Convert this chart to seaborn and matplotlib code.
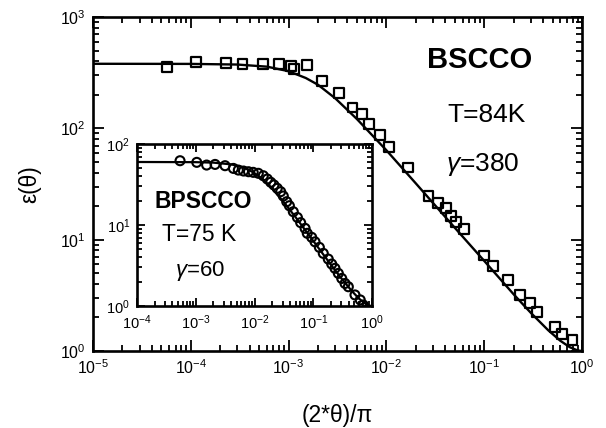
import numpy as np
import pandas as pd
import matplotlib
matplotlib.use("Agg")
import matplotlib.pyplot as plt
import seaborn as sns
from matplotlib.ticker import LogLocator, NullFormatter, LogFormatterSciNotation

# ---------------- data ----------------
# main panel: BSCCO, T=84K, squares
sq_x = [5.75e-5, 1.13e-4, 2.29e-4, 3.38e-4, 5.43e-4, 7.9e-4, 1.06e-3, 1.13e-3,
        1.55e-3, 2.19e-3, 3.27e-3, 4.5e-3, 5.58e-3, 6.7e-3, 8.6e-3, 1.07e-2,
        1.67e-2, 2.69e-2, 3.34e-2, 4.07e-2, 4.57e-2, 5.13e-2, 6.2e-2, 0.100,
        0.122, 0.174, 0.232, 0.295, 0.347, 0.53, 0.63, 0.80]
sq_y = [358, 393, 384, 379, 381, 381, 366, 342,
        371, 267, 209, 154, 135, 110, 87, 68.5,
        44.4, 24.8, 21.2, 19.1, 16.3, 14.3, 12.4, 7.2,
        5.84, 4.35, 3.19, 2.68, 2.25, 1.65, 1.42, 1.26]

# main panel: fitted curve (gamma = 380)
fit_x = [1e-5, 1e-4, 3e-4, 6e-4, 1e-3, 1.5e-3, 2e-3, 3e-3, 5e-3, 1e-2,
         2e-2, 5e-2, 0.1, 0.2, 0.3, 0.45, 0.6, 0.75, 0.9, 1.0]
fit_y = [380, 379, 374, 358, 326, 283, 246, 186, 121, 63.5,
         32, 12.8, 6.45, 3.23, 2.2, 1.54, 1.236, 1.082, 1.012, 1.0]

# inset: BPSCCO, T=75 K, circles
circ_x = [5.4e-4, 1.04e-3, 1.53e-3, 2.13e-3, 3.15e-3, 4.37e-3, 5.3e-3, 6.5e-3,
          7.9e-3, 9.5e-3, 1.16e-2, 1.41e-2, 1.65e-2, 1.89e-2, 2.14e-2, 2.44e-2,
          2.79e-2, 3.09e-2, 3.53e-2, 3.92e-2, 4.57e-2, 5.37e-2, 6.1e-2, 7.25e-2,
          7.9e-2, 9.4e-2, 0.107, 0.127, 0.148, 0.18, 0.206, 0.234, 0.267, 0.305,
          0.347, 0.395, 0.513, 0.63, 0.71]
circ_y = [62.2, 59.4, 55, 56, 54, 50, 47.7, 46.4,
          45.5, 44.7, 43.5, 40.6, 37, 33.7, 31.2, 28.4,
          25.8, 22.8, 19.4, 17.3, 14.6, 12.4, 10.7, 9.1,
          7.9, 7.05, 6.2, 5.3, 4.47, 3.8, 3.3, 2.92, 2.53, 2.19,
          1.9, 1.73, 1.37, 1.19, 1.03]

# inset: fitted curve (gamma = 60)
ifit_x = [1e-4, 1e-3, 2e-3, 4e-3, 6e-3, 8e-3, 1e-2, 1.4e-2, 2e-2, 3e-2,
          5e-2, 0.1, 0.2, 0.3, 0.45, 0.6, 0.75, 0.9, 1.0]
ifit_y = [60.0, 59.7, 58.9, 56.1, 52.2, 47.9, 43.7, 36.2, 28.1, 20.0,
          12.5, 6.36, 3.23, 2.2, 1.54, 1.236, 1.082, 1.012, 1.0]

main_xticks = [1e-5, 1e-4, 1e-3, 1e-2, 1e-1, 1e0]
main_yticks = [1e0, 1e1, 1e2, 1e3]
inset_xticks = [1e-4, 1e-3, 1e-2, 1e-1, 1e0]
inset_yticks = [1e0, 1e1, 1e2]

x_label = "(2*θ)/π"
y_label = "ε(θ)"
main_texts = ["BSCCO", "T=84K", r"$\mathit{γ}$=380"]
inset_texts = ["BPSCCO", "T=75 K", r"$\mathit{γ}$=60"]

# ---------------- style ----------------
sns.set_style("ticks")
plt.rcParams['font.family'] = ['Liberation Sans', 'DejaVu Sans']
plt.rcParams['mathtext.fontset'] = 'custom'
plt.rcParams['mathtext.rm'] = 'Liberation Sans'
plt.rcParams['mathtext.it'] = 'Liberation Sans:italic'
plt.rcParams['mathtext.bf'] = 'Liberation Sans:bold'
plt.rcParams['mathtext.default'] = 'regular'
for key in ['text.color', 'axes.labelcolor', 'xtick.color', 'ytick.color',
            'axes.edgecolor']:
    plt.rcParams[key] = 'black'

fig = plt.figure(figsize=(6.06, 4.28), dpi=100)
ax = fig.add_axes([0.1535, 0.1799, 0.8069, 0.7804])

df_fit = pd.DataFrame({"x": fit_x, "y": fit_y})
df_sq = pd.DataFrame({"x": sq_x, "y": sq_y})
sns.lineplot(data=df_fit, x="x", y="y", ax=ax, color="black", linewidth=1.7,
             estimator=None, sort=False)
sns.scatterplot(data=df_sq, x="x", y="y", ax=ax, marker="s", s=50,
                facecolor="none", edgecolor="black", linewidth=1.6, zorder=3)


def style_axes(a, xticks, yticks, lab_size, major_len, minor_len):
    a.set_xscale("log")
    a.set_yscale("log")
    a.xaxis.set_minor_locator(LogLocator(base=10, subs=np.arange(2, 10), numticks=100))
    a.yaxis.set_minor_locator(LogLocator(base=10, subs=np.arange(2, 10), numticks=100))
    a.xaxis.set_minor_formatter(NullFormatter())
    a.yaxis.set_minor_formatter(NullFormatter())
    a.set_xticks(xticks)
    a.set_yticks(yticks)
    a.xaxis.set_major_formatter(LogFormatterSciNotation())
    a.yaxis.set_major_formatter(LogFormatterSciNotation())
    a.tick_params(which="both", direction="in", top=True, right=True,
                  width=1.3, color="black", labelcolor="black",
                  labelsize=lab_size, pad=5)
    a.tick_params(which="major", length=major_len)
    a.tick_params(which="minor", length=minor_len)
    for s in a.spines.values():
        s.set_linewidth(1.9)
        s.set_color("black")
    a.set_xlabel("")
    a.set_ylabel("")


style_axes(ax, main_xticks, main_yticks, 11.5, 8, 4.5)
ax.set_xlim(1e-5, 1)
ax.set_ylim(1, 1000)
ax.set_xlabel(x_label, fontsize=16.5, labelpad=20, color="black")
ax.set_ylabel(y_label, fontsize=16.5, labelpad=14, color="black")

fig.text(0.792, 0.860, main_texts[0], fontsize=21, fontweight="bold",
         ha="center", va="center", color="black")
fig.text(0.8036, 0.7313, main_texts[1], fontsize=19, ha="center", va="center",
         color="black")
fig.text(0.797, 0.6145, main_texts[2], fontsize=19, ha="center", va="center",
         color="black")

# ---------------- inset ----------------
axi = fig.add_axes([0.2261, 0.285, 0.3878, 0.3785])
axi.set_facecolor("white")
df_ifit = pd.DataFrame({"x": ifit_x, "y": ifit_y})
df_circ = pd.DataFrame({"x": circ_x, "y": circ_y})
sns.lineplot(data=df_ifit, x="x", y="y", ax=axi, color="black", linewidth=1.6,
             estimator=None, sort=False)
sns.scatterplot(data=df_circ, x="x", y="y", ax=axi, marker="o", s=42,
                facecolor="none", edgecolor="black", linewidth=1.5, zorder=3)
style_axes(axi, inset_xticks, inset_yticks, 10.5, 6, 3.5)
axi.set_xlim(1e-4, 1)
axi.set_ylim(1, 100)

fig.text(0.335, 0.529, inset_texts[0], fontsize=16.5, fontweight="bold",
         ha="center", va="center", color="black")
fig.text(0.329, 0.453, inset_texts[1], fontsize=16.5, ha="center", va="center",
         color="black")
fig.text(0.330, 0.366, inset_texts[2], fontsize=16, ha="center", va="center",
         color="black")

fig.savefig("out.png", dpi=100)
